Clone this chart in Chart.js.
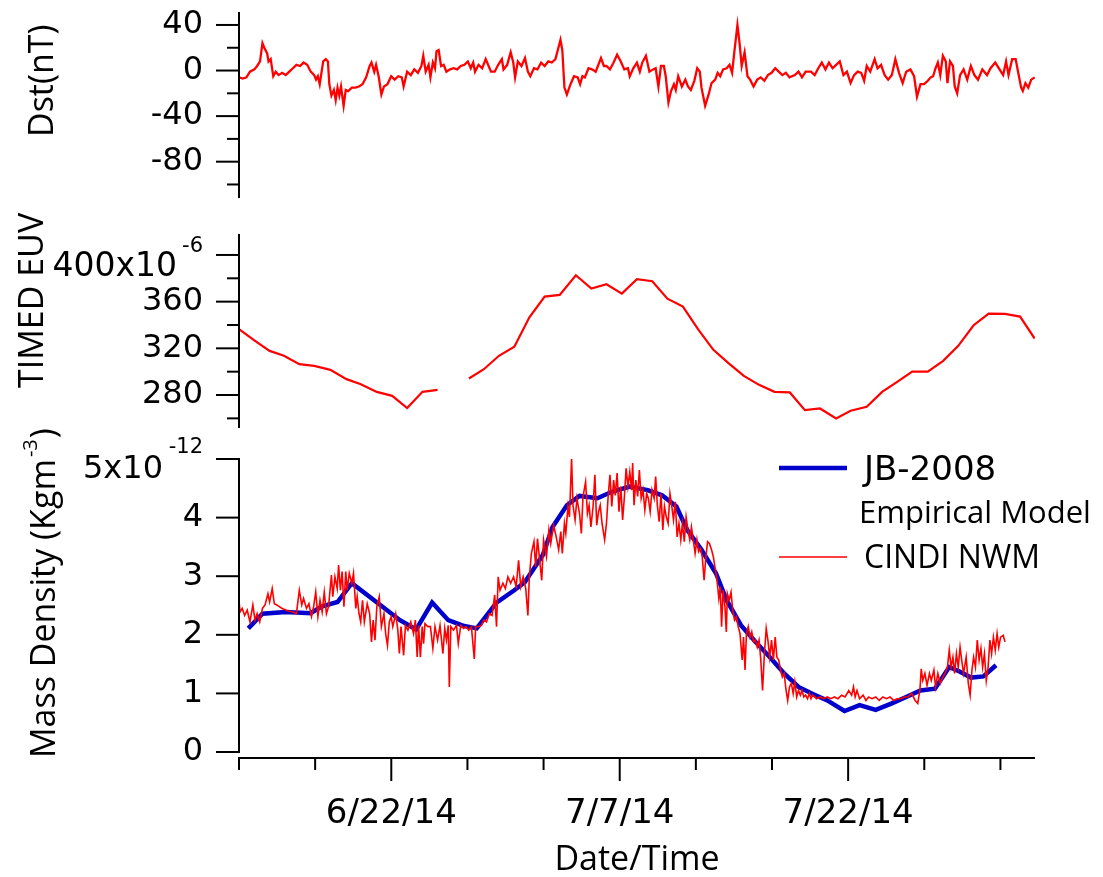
<!DOCTYPE html>
<html><head><meta charset="utf-8">
<script src="https://cdn.jsdelivr.net/npm/chart.js@4.4.1/dist/chart.umd.min.js"></script>
<style>
html,body{margin:0;padding:0;background:#fff;}
#wrap{position:relative;width:1103px;height:877px;overflow:hidden;background:#fff;}
canvas{position:absolute;left:0;top:0;}
</style></head><body>
<div id="wrap">
<canvas id="cDst" width="1103" height="877"></canvas>
<canvas id="cEuv" width="1103" height="877"></canvas>
<canvas id="cRho" width="1103" height="877"></canvas>
</div>
<script>
// ---------- DATA (time in days since 6/12/14 00:00) ----------
const dateTickDays   = [10, 25, 40];
const dateTickLabels = ['6/22/14', '7/7/14', '7/22/14'];
const dayMin = 0, dayMax = 52.27;

// Dst index (nT)
const dstDays = [0.00,0.25,0.49,0.72,1.01,1.19,1.38,1.54,1.66,1.85,1.94,2.08,2.25,2.41,2.60,2.83,3.07,3.30,3.54,3.77,4.01,4.24,4.48,4.71,4.94,5.06,5.18,5.30,5.53,5.70,5.84,5.93,6.07,6.23,6.35,6.47,6.59,6.70,6.87,7.01,7.17,7.41,7.64,7.88,8.11,8.35,8.58,8.70,8.88,9.00,9.17,9.35,9.52,9.75,9.99,10.22,10.46,10.69,10.81,11.04,11.28,11.51,11.75,11.98,12.10,12.26,12.45,12.57,12.73,12.87,12.97,13.11,13.27,13.44,13.62,13.86,14.09,14.33,14.56,14.80,15.03,15.22,15.38,15.50,15.73,15.97,16.20,16.39,16.55,16.79,17.02,17.26,17.37,17.61,17.84,18.01,18.13,18.31,18.55,18.78,18.97,19.13,19.37,19.60,19.84,20.07,20.31,20.54,20.78,21.11,21.23,21.37,21.53,21.77,22.00,22.24,22.40,22.55,22.71,22.95,23.18,23.42,23.77,23.96,24.13,24.36,24.60,24.83,25.07,25.30,25.54,25.66,25.89,26.13,26.32,26.48,26.72,26.95,27.19,27.36,27.54,27.71,27.90,28.02,28.20,28.37,28.56,28.68,28.84,29.08,29.31,29.48,29.67,29.90,30.09,30.26,30.37,30.61,30.84,31.03,31.27,31.43,31.60,31.79,32.02,32.21,32.38,32.54,32.73,32.87,33.01,33.20,33.39,33.56,33.79,34.03,34.26,34.50,34.73,34.97,35.21,35.44,35.68,35.91,36.15,36.50,36.74,36.97,37.21,37.56,37.80,38.04,38.27,38.51,38.74,38.98,39.21,39.45,39.69,39.92,40.16,40.39,40.63,40.86,41.05,41.22,41.45,41.74,41.93,42.16,42.40,42.63,42.87,43.10,43.34,43.58,43.81,44.09,44.33,44.52,44.75,44.99,45.23,45.42,45.58,45.74,45.89,46.05,46.22,46.41,46.52,46.69,46.88,47.00,47.16,47.35,47.58,47.82,48.06,48.29,48.53,48.81,49.12,49.35,49.66,49.94,50.18,50.37,50.53,50.77,51.00,51.17,51.36,51.47,51.64,51.83,52.02,52.25];
const dstValues = [-6,-7,-6,-1,1,4,8,24,20,15,8,10,-5,-1,-4,-2,-4,-1,2,5,4,7,5,-1,-4,-8,-5,-12,8,10,8,-12,-22,-17,-26,-15,-22,-14,-31,-17,-18,-15,-15,-14,-12,-6,4,7,-1,5,-5,-21,-14,-12,-5,-8,-5,-6,-14,-1,-4,1,-2,4,13,-1,5,-6,7,2,17,18,4,5,-1,1,2,1,4,5,8,2,7,-1,5,2,10,4,-1,-1,5,10,1,5,16,7,-6,8,4,11,-1,-5,2,1,7,4,8,7,10,27,18,-15,-21,-12,-5,-6,-12,-5,-6,2,1,-1,11,4,4,1,7,14,8,1,2,-5,2,7,-1,7,13,-1,1,2,-14,4,4,-5,-28,-18,-12,-17,-5,-14,-8,-14,-17,-9,2,-1,-15,-31,-21,-11,-8,-2,-5,1,2,5,-2,18,40,24,4,16,-5,-8,-14,-8,-6,-9,-4,-2,2,-1,-4,-2,-6,-4,-1,-6,-1,-1,-4,2,7,1,7,2,5,8,-4,-1,-11,-4,-1,-2,-9,4,-1,10,2,5,-4,-8,-4,10,-2,-11,-1,1,-5,-23,-12,-12,-9,-6,-5,2,7,-4,13,8,-11,8,4,-14,-20,-4,1,-8,4,-4,-8,1,-4,2,7,1,-4,8,-4,10,10,-2,-15,-18,-11,-15,-8,-6];

// TIMED EUV (x10^-6), null = no data
const euvDays   = [0.00,0.96,2.01,2.95,3.96,4.94,6.00,7.06,8.00,9.05,10.06,11.04,12.05,13.04,14.07,15.10,16.08,17.07,18.08,19.06,20.07,21.06,22.12,23.14,24.13,25.14,26.13,27.14,28.13,29.15,30.14,31.15,32.14,33.15,34.15,35.16,36.17,37.16,38.15,39.21,40.16,41.22,42.23,43.22,44.21,45.23,46.24,47.23,48.24,49.23,50.30,51.29,52.25];
const euvValues = [336.4,327.2,317.8,313.6,306.4,305.0,301.6,293.6,289.3,282.7,279.3,268.8,282.7,284.4,null,294.2,302.1,313.6,321.3,346.4,364.3,365.8,382.6,371.2,374.9,366.9,379.2,377.5,362.6,355.8,336.4,318.7,307.3,296.4,288.7,282.7,282.2,267.0,268.5,259.9,266.5,269.9,282.7,291.3,300.1,300.1,309.3,322.1,339.8,349.8,349.5,347.2,328.4];

// Mass density (x10^-12 kg m^-3): JB-2008 empirical model
const jbDays   = [0.61,1.54,3.07,4.71,5.41,6.47,7.41,9.17,10.57,11.63,12.68,13.74,14.79,15.61,16.91,18.08,18.78,19.95,20.59,21.53,22.36,23.54,24.48,25.66,26.84,27.78,28.72,29.43,30.37,31.32,32.02,32.97,33.91,34.85,35.80,36.74,37.68,38.63,39.76,40.75,41.81,42.87,43.81,44.75,45.70,46.64,47.35,48.06,48.88,49.71];
const jbValues = [2.11,2.36,2.39,2.37,2.48,2.56,2.88,2.53,2.25,2.09,2.55,2.25,2.15,2.11,2.55,2.76,2.90,3.36,3.84,4.21,4.37,4.33,4.44,4.53,4.47,4.38,4.19,3.79,3.45,3.05,2.59,2.16,1.88,1.62,1.34,1.11,0.99,0.88,0.70,0.80,0.72,0.83,0.94,1.05,1.08,1.45,1.37,1.27,1.29,1.48];

// Mass density: CINDI neutral wind meter
const cindiDays = [0.00,0.07,0.21,0.37,0.54,0.72,0.91,1.05,1.19,1.36,1.54,1.71,1.90,2.01,2.18,2.32,2.48,2.83,3.19,3.54,3.77,3.96,4.12,4.24,4.43,4.59,4.76,4.90,5.04,5.18,5.32,5.46,5.60,5.74,5.88,6.07,6.16,6.30,6.45,6.54,6.66,6.77,6.89,7.01,7.10,7.24,7.41,7.52,7.67,7.76,7.88,7.99,8.11,8.23,8.42,8.58,8.70,8.81,8.93,9.05,9.21,9.35,9.52,9.63,9.75,9.87,9.99,10.10,10.29,10.43,10.53,10.64,10.81,10.93,11.09,11.28,11.46,11.58,11.70,11.79,11.91,12.03,12.12,12.21,12.40,12.57,12.73,12.87,13.04,13.20,13.39,13.51,13.62,13.74,13.81,13.91,14.09,14.28,14.40,14.56,14.75,14.91,15.08,15.26,15.45,15.54,15.73,15.92,16.08,16.25,16.44,16.62,16.79,16.91,17.02,17.14,17.33,17.49,17.66,17.84,18.03,18.20,18.36,18.50,18.66,18.83,18.97,19.06,19.20,19.37,19.48,19.60,19.88,20.00,20.19,20.35,20.47,20.66,20.83,20.99,21.13,21.23,21.37,21.46,21.60,21.70,21.84,21.93,22.07,22.19,22.36,22.48,22.59,22.76,22.88,22.99,23.11,23.25,23.37,23.49,23.61,23.72,23.84,24.01,24.13,24.24,24.36,24.48,24.60,24.71,24.83,24.95,25.07,25.19,25.30,25.42,25.54,25.66,25.78,25.85,25.94,26.06,26.18,26.29,26.41,26.53,26.65,26.77,26.88,27.00,27.12,27.26,27.36,27.47,27.59,27.71,27.83,27.94,28.06,28.18,28.30,28.42,28.53,28.65,28.77,28.89,29.01,29.12,29.24,29.36,29.48,29.60,29.71,29.83,29.95,30.07,30.18,30.30,30.42,30.54,30.66,30.77,30.89,31.03,31.15,31.27,31.39,31.51,31.60,31.69,31.79,31.91,32.00,32.07,32.19,32.31,32.42,32.54,32.66,32.78,32.90,33.04,33.13,33.23,33.32,33.44,33.56,33.67,33.79,33.91,34.03,34.15,34.26,34.38,34.50,34.62,34.73,34.85,34.97,35.09,35.21,35.32,35.44,35.56,35.68,35.80,35.91,36.03,36.15,36.27,36.39,36.50,36.62,36.74,36.86,36.97,37.09,37.21,37.33,37.45,37.56,37.68,37.92,38.15,38.39,38.63,38.86,39.10,39.33,39.57,39.80,40.04,40.23,40.35,40.46,40.58,40.75,40.98,41.17,41.34,41.57,41.81,42.04,42.28,42.51,42.75,42.99,43.22,43.46,43.69,43.93,44.17,44.40,44.57,44.71,44.80,44.90,45.04,45.18,45.34,45.46,45.63,45.74,45.89,46.05,46.22,46.36,46.52,46.64,46.76,46.88,46.99,47.11,47.23,47.35,47.47,47.58,47.75,47.89,48.01,48.13,48.24,48.36,48.48,48.60,48.72,48.83,48.95,49.07,49.19,49.31,49.42,49.54,49.66,49.78,49.89,50.01,50.18,50.30];
const cindiValues = [2.59,2.39,2.45,2.33,2.42,2.22,2.51,2.25,2.36,2.22,2.45,2.51,2.70,2.56,2.79,2.53,2.51,2.45,2.41,2.39,2.36,2.76,2.51,2.62,2.45,2.53,2.31,2.48,2.73,2.31,2.59,2.39,2.73,2.36,2.48,3.02,2.65,2.99,2.79,3.19,2.76,3.08,2.48,3.08,2.76,3.05,2.88,3.05,2.45,2.65,2.36,2.22,2.59,2.22,2.53,2.36,1.88,2.25,1.91,2.48,2.65,2.14,2.36,2.02,1.82,2.22,2.31,2.14,2.36,2.08,1.68,2.14,1.65,2.16,2.08,2.22,2.02,2.25,1.62,2.16,1.62,2.14,1.85,2.19,2.14,2.14,1.77,2.14,1.91,2.16,1.68,2.11,1.91,2.16,1.11,2.14,2.08,2.16,1.85,2.16,2.11,2.14,2.08,2.14,1.59,2.14,2.14,2.16,2.25,2.22,2.36,2.33,2.68,2.14,2.99,2.76,2.88,2.79,2.99,2.88,2.99,2.82,3.27,2.82,2.99,2.79,2.33,2.96,3.39,3.59,3.16,3.64,2.93,3.62,3.33,3.79,3.56,3.87,3.67,3.45,3.76,3.39,3.90,3.73,4.19,4.01,5.01,4.21,3.96,4.33,4.07,3.73,4.36,4.61,4.07,4.21,3.84,4.19,4.73,3.87,4.10,4.21,3.90,3.62,3.90,4.36,4.73,4.19,4.64,4.38,4.76,4.10,4.53,3.96,4.33,4.84,4.53,4.78,4.47,4.93,4.21,4.64,4.36,4.81,4.33,4.47,4.13,4.41,4.33,4.10,4.47,4.33,4.70,4.21,3.93,4.41,3.79,4.19,4.01,3.90,4.41,4.19,3.96,4.27,3.67,3.90,3.62,3.90,3.59,4.01,3.79,3.62,3.84,3.62,3.39,3.62,3.42,3.47,3.33,2.93,3.33,3.59,3.56,3.45,3.33,3.13,2.93,2.62,2.82,2.14,2.76,2.48,2.05,2.70,2.59,2.73,2.42,2.25,2.31,2.14,2.02,1.57,1.96,1.40,2.02,2.14,1.96,2.05,1.88,1.91,1.79,1.91,1.59,1.05,1.68,2.11,1.91,1.62,1.91,1.57,1.96,1.62,1.57,1.40,1.28,1.34,1.08,0.88,1.11,1.17,1.00,1.20,0.94,1.05,0.97,1.05,0.94,0.97,0.91,1.00,0.91,0.97,0.91,0.94,0.91,0.94,0.91,0.94,0.91,0.97,0.94,1.05,0.97,1.11,0.94,1.05,0.91,0.97,0.88,0.94,0.91,0.94,0.88,0.94,0.91,0.94,0.88,0.91,0.91,0.94,0.94,1.00,0.88,0.83,1.05,1.42,1.22,1.34,1.14,1.34,1.22,1.40,1.11,1.34,1.17,1.28,1.34,1.45,1.74,1.45,1.62,1.34,1.68,1.45,1.79,1.54,1.34,1.62,1.17,0.97,1.40,1.62,1.45,1.91,1.57,1.77,1.45,1.68,1.22,1.45,1.91,1.68,1.96,1.74,2.02,1.79,1.96,1.99,1.88];

// Axis / legend text
const dstTitle = 'Dst(nT)';
const euvTitle = 'TIMED EUV';
const rhoTitleParts = ['Mass Density (Kgm', '-3', ')'];
const xTitle = 'Date/Time';
const seriesNames = ['JB-2008', 'Empirical Model', 'CINDI NWM'];

// ---------- helpers ----------
const NUM = 'DejaVu Sans';
const TXT = 'Open Sans';
const RED = '#ff0000';
const BLUE = '#0000cd';
const pts = (xs, ys) => xs.map((d, i) => ({x: d, y: ys[i]}));

function line(ctx, x1, y1, x2, y2) { ctx.beginPath(); ctx.moveTo(x1, y1); ctx.lineTo(x2, y2); ctx.stroke(); }

function decorPlugin(cfg) {
  return {
    id: 'decor',
    afterDraw(chart) {
      const ctx = chart.ctx, a = chart.chartArea, ys = chart.scales.y, xs = chart.scales.x;
      ctx.save();
      ctx.strokeStyle = '#000'; ctx.fillStyle = '#000'; ctx.lineWidth = 2;
      // y axis line and tick marks
      const yTop = cfg.yLineTop != null ? ys.getPixelForValue(cfg.yLineTop) : a.top;
      const yBot = cfg.yLineBottom != null ? ys.getPixelForValue(cfg.yLineBottom) : a.bottom;
      line(ctx, a.left, yTop - 1, a.left, yBot + 1);
      ys.ticks.forEach(t => {
        const p = ys.getPixelForValue(t.value);
        line(ctx, a.left - (cfg.yMajor(t.value) ? 23 : 12), p, a.left, p);
      });
      // x axis
      if (cfg.xAxis) {
        line(ctx, a.left - 1, a.bottom, a.right, a.bottom);
        xs.ticks.forEach(t => {
          const p = xs.getPixelForValue(t.value);
          line(ctx, p, a.bottom, p, a.bottom + (t.label ? 23 : 12));
        });
      }
      // exponent label at top tick
      if (cfg.exp) {
        const p = ys.getPixelForValue(cfg.exp.value);
        ctx.textAlign = 'right'; ctx.textBaseline = 'alphabetic';
        ctx.font = cfg.exp.mainSize + 'px "' + NUM + '"';
        ctx.fillText(cfg.exp.main, cfg.exp.mainRight, p + cfg.exp.mainDy);
        ctx.font = '21px "' + NUM + '"';
        ctx.fillText(cfg.exp.sup, a.left - 36, p + cfg.exp.supDy);
      }
      // rotated axis title
      if (cfg.title) {
        ctx.save();
        ctx.translate(cfg.title.x, cfg.title.y);
        ctx.rotate(-Math.PI / 2);
        ctx.textAlign = 'left'; ctx.textBaseline = 'alphabetic';
        let cx = 0;
        cfg.title.parts.forEach(pt => {
          ctx.font = pt.size + 'px "' + TXT + '"';
          ctx.fillText(pt.text, cx + (pt.dx || 0), pt.dy || 0);
          cx += ctx.measureText(pt.text).width + (pt.dx || 0);
        });
        ctx.restore();
      }
      // legend
      if (cfg.legend) {
        const ds = chart.data.datasets;
        const jb = ds.find(d => d.label === seriesNames[0]);
        const ci = ds.find(d => d.label === seriesNames[2]);
        ctx.lineWidth = jb.borderWidth; ctx.strokeStyle = jb.borderColor;
        line(ctx, 779, 468, 847, 468);
        ctx.lineWidth = ci.borderWidth; ctx.strokeStyle = ci.borderColor;
        line(ctx, 779, 557, 847, 557);
        ctx.fillStyle = '#000'; ctx.textAlign = 'left'; ctx.textBaseline = 'alphabetic';
        ctx.font = '34px "' + NUM + '"'; ctx.fillText(seriesNames[0], 864, 480);
        ctx.font = '31px "' + TXT + '"'; ctx.fillText(seriesNames[1], 859, 523);
        ctx.font = '32px "' + TXT + '"'; ctx.fillText(seriesNames[2], 864, 568);
      }
      ctx.restore();
    }
  };
}

function yAxis(min, max, step, labelFn) {
  return {
    type: 'linear', position: 'left', min: min, max: max,
    grid: {display: false, drawTicks: false},
    border: {display: false},
    ticks: {stepSize: step, includeBounds: false, autoSkip: false, padding: 36, color: '#000',
            font: {family: NUM, size: 32}, callback: labelFn},
    afterFit(s) { s.width = 239; s.paddingTop = 0; s.paddingBottom = 0; s.paddingLeft = 0; s.paddingRight = 0; }
  };
}
function hiddenX() { return {type: 'linear', display: false, min: dayMin, max: dayMax}; }

Chart.defaults.font.family = TXT;
Chart.defaults.color = '#000';
const common = {responsive: false, animation: false, devicePixelRatio: 1,
  plugins: {legend: {display: false}, tooltip: {enabled: false}},
  elements: {point: {radius: 0}, line: {tension: 0}}};

// ---- Panel 1: Dst ----
new Chart(document.getElementById('cDst'), {
  type: 'line',
  data: {datasets: [{label: 'Dst', data: pts(dstDays, dstValues), borderColor: RED, borderWidth: 2.3}]},
  options: Object.assign({}, common, {
    layout: {autoPadding: false, padding: {left: 0, top: 13, right: 68, bottom: 680}},
    scales: {x: hiddenX(), y: yAxis(-111, 50.5, 20, v => (Math.round(v) % 40 === 0 ? String(Math.round(v)) : ''))}
  }),
  plugins: [decorPlugin({yMajor: v => Math.round(v) % 40 === 0,
    title: {x: 53, y: 137, parts: [{text: dstTitle, size: 34}]}})]
});

// ---- Panel 2: TIMED EUV ----
new Chart(document.getElementById('cEuv'), {
  type: 'line',
  data: {datasets: [{label: 'EUV', data: pts(euvDays, euvValues), borderColor: RED, borderWidth: 2.2, spanGaps: false}]},
  options: Object.assign({}, common, {
    layout: {autoPadding: false, padding: {left: 0, top: 235, right: 68, bottom: 450}},
    scales: {x: hiddenX(), y: yAxis(252.6, 417.1, 20, v => { const r = Math.round(v); return (r % 40 === 0 && r !== 400) ? String(r) : ''; })}
  }),
  plugins: [decorPlugin({yMajor: v => Math.round(v) % 40 === 0,
    exp: {value: 400, main: '400x10', sup: '-6', mainSize: 33, mainRight: 177, mainDy: 21, supDy: -3},
    title: {x: 43, y: 388, parts: [{text: euvTitle, size: 34}]}})]
});

// ---- Panel 3: Mass density ----
new Chart(document.getElementById('cRho'), {
  type: 'line',
  data: {datasets: [
    {label: seriesNames[0], data: pts(jbDays, jbValues), borderColor: BLUE, borderWidth: 4.5, order: 2},
    {label: seriesNames[2], data: pts(cindiDays, cindiValues), borderColor: RED, borderWidth: 1.6, order: 1}
  ]},
  options: Object.assign({}, common, {
    layout: {autoPadding: false, padding: {left: 0, top: 459, right: 68, bottom: 0}},
    scales: {
      x: {type: 'linear', position: 'bottom', min: dayMin, max: dayMax,
          grid: {display: false, drawTicks: false}, border: {display: false},
          ticks: {stepSize: 5, includeBounds: false, autoSkip: false, maxRotation: 0, minRotation: 0,
                  padding: 36, color: '#000', font: {family: NUM, size: 34},
                  callback: v => { const i = dateTickDays.indexOf(v); return i >= 0 ? dateTickLabels[i] : ''; }},
          title: {display: true, text: xTitle, color: '#000', font: {family: TXT, size: 34, lineHeight: 1}, padding: {top: 0, bottom: 0}},
          afterFit(s) { s.height = 119; s.paddingLeft = 0; s.paddingRight = 0; s.paddingTop = 0; s.paddingBottom = 0; }},
      y: yAxis(-0.102, 5, 1, v => (v === 5 ? '' : String(v)))
    }
  }),
  plugins: [decorPlugin({yMajor: () => true, xAxis: true, yLineTop: 5, yLineBottom: 0,
    exp: {value: 5, main: '5x10', sup: '-12', mainSize: 32, mainRight: 163, mainDy: 19, supDy: -6},
    title: {x: 55, y: 758, parts: [{text: rhoTitleParts[0], size: 34}, {text: rhoTitleParts[1], size: 20, dy: -18, dx: 2}, {text: rhoTitleParts[2], size: 34, dx: 1}]},
    legend: true})]
});
</script>
</body></html>
